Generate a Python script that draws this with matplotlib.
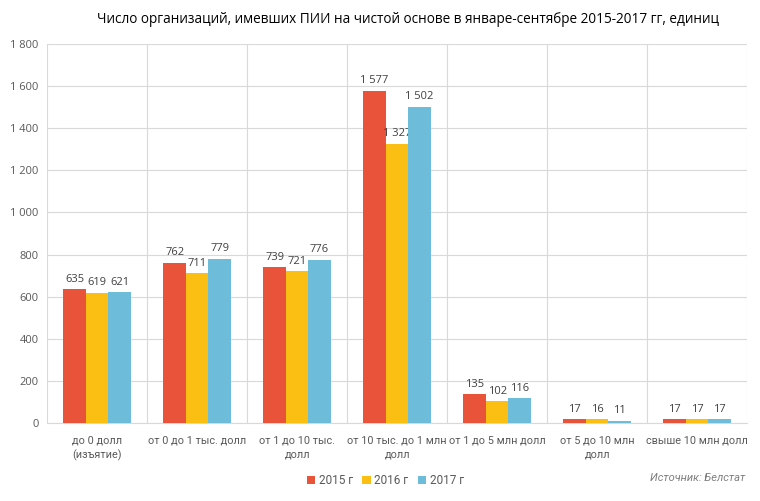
import numpy as np
import matplotlib.pyplot as plt
from matplotlib.ticker import FuncFormatter

categories = ['до 0 долл\n(изъятие)', 'от 0 до 1 тыс. долл', 'от 1 до 10 тыс.\nдолл',
              'от 10 тыс. до 1 млн\nдолл', 'от 1 до 5 млн долл', 'от 5 до 10 млн\nдолл',
              'свыше 10 млн долл']
years = ['2015 г', '2016 г', '2017 г']
v2015 = [635, 762, 739, 1577, 135, 17, 17]
v2016 = [619, 711, 721, 1327, 102, 16, 17]
v2017 = [621, 779, 776, 1502, 116, 11, 17]
colors = ['#E8533A', '#FBBE12', '#6DBCD9']

plt.rcParams['font.family'] = ['Open Sans', 'DejaVu Sans']
narrow = ['Roboto', 'DejaVu Sans']


def thousands(v, pos=None):
    return '{:,}'.format(int(v)).replace(',', '\u00a0')


fig = plt.figure(figsize=(7.6, 5.01), dpi=100)
ax = fig.add_axes([0.062, 0.156, 0.921, 0.756])

x = np.arange(len(categories))
w = 0.225
for i, (vals, lab, c) in enumerate(zip([v2015, v2016, v2017], years, colors)):
    bars = ax.bar(x + (i - 1) * w, vals, width=w, color=c, label=lab, zorder=3)
    for b, v in zip(bars, vals):
        ax.text(b.get_x() + b.get_width() / 2, v + 22, thousands(v), ha='center', va='bottom',
                fontsize=8, color='#404040')

ax.set_xlim(-0.5, len(categories) - 0.5)
ax.set_ylim(0, 1800)
ax.set_yticks(np.arange(0, 1801, 200))
ax.yaxis.set_major_formatter(FuncFormatter(thousands))
ax.set_xticks(x)
ax.set_xticklabels(categories, fontsize=7.8, color='#595959', linespacing=1.5, family=narrow)
ax.tick_params(axis='y', labelsize=8, labelcolor='#595959', length=0, pad=6)
ax.tick_params(axis='x', length=0, pad=9)

ax.set_xticks(np.arange(-0.5, len(categories)), minor=True)
ax.tick_params(axis='x', which='minor', length=0)
ax.grid(axis='y', which='major', color='#D9D9D9', lw=0.8, zorder=0)
ax.grid(axis='x', which='minor', color='#D9D9D9', lw=0.8, zorder=0)
ax.grid(axis='x', which='major', visible=False)
for s in ['top', 'right', 'left']:
    ax.spines[s].set_visible(False)
ax.spines['bottom'].set_color('#D9D9D9')

fig.text(0.537, 0.962, 'Число организаций, имевших ПИИ на чистой основе в январе-сентябре 2015-2017 гг, единиц',
         ha='center', va='center', fontsize=9.8, color='#000000')

leg = fig.legend(loc='center', bbox_to_anchor=(0.507, 0.041), ncol=3, frameon=False,
                 prop={'family': narrow, 'size': 8.5},
                 handlelength=0.7, handleheight=0.7, handletextpad=0.3, columnspacing=0.8,
                 labelcolor='#595959')
fig.text(0.981, 0.046, 'Источник: Белстат', ha='right', va='center', fontsize=8,
         style='italic', color='#7F7F7F', family=narrow)

fig.savefig('out.png', dpi=100)
